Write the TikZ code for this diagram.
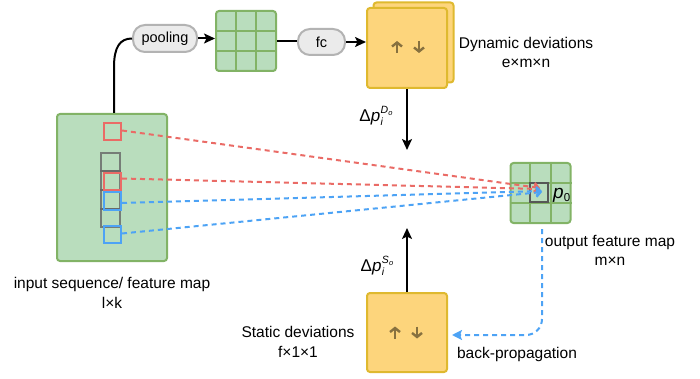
\documentclass[tikz,border=0pt]{standalone}
\usepackage{fontspec}
\setmainfont{Liberation Sans}
\usetikzlibrary{arrows.meta,calc}
\definecolor{gfill}{HTML}{B9DDBD}
\definecolor{gline}{HTML}{82B366}
\definecolor{yfill}{HTML}{FDD57C}
\definecolor{yline}{HTML}{DFB92F}
\definecolor{pfill}{HTML}{EBEBEB}
\definecolor{pline}{HTML}{B3B3B3}
\definecolor{rdash}{HTML}{EA6B66}
\definecolor{bdash}{HTML}{4DA3F5}
\definecolor{glyph}{HTML}{87713F}
\definecolor{gcell}{HTML}{666666}

% offset label: \Delta p_i^{X_o}
\newcommand{\offlabel}[1]{\fontsize{17}{18}\selectfont Δ\textit{p}\kern0.3pt\rlap{\raisebox{-4.5pt}{\fontsize{10.5}{10}\selectfont\textit{i}}}\raisebox{7.5pt}{\fontsize{10.5}{10}\selectfont\textit{#1}\kern0.3pt\raisebox{-2pt}{\fontsize{7.5}{7}\selectfont\textit{o}}}}

\begin{document}
\begin{tikzpicture}[x=1pt,y=-1pt,
  greenbox/.style={draw=gline,fill=gfill,line width=2pt,rounded corners=3pt,inner sep=0pt},
  pill/.style={draw=pline,fill=pfill,line width=2pt,rounded corners=12pt,inner sep=0pt,font=\fontsize{14.5}{16}\selectfont},
  devbox/.style={draw=yline,fill=yfill,line width=2pt,rounded corners=3pt,minimum width=80pt,minimum height=80pt,inner sep=0pt},
  cell/.style={line width=2pt,minimum width=17pt,minimum height=17pt,inner sep=0pt},
  graycell/.style={draw=gcell,draw opacity=0.8,line width=2pt,minimum width=19pt,minimum height=18.5pt,inner sep=0pt},
  lbl/.style={align=center,font=\fontsize{15.5}{19.5}\selectfont,inner sep=0pt},
  flow/.style={line width=2pt,-{Stealth[length=11pt,width=10pt,inset=2.5pt]}},
  plain/.style={line width=2pt},
  rdl/.style={draw=rdash,line width=2pt,dash pattern=on 5pt off 4pt,-{Straight Barb[length=4.5pt,width=9pt,line width=1.8pt]}},
  bdl/.style={draw=bdash,line width=2pt,dash pattern=on 5pt off 4pt,-{Straight Barb[length=4.5pt,width=9pt,line width=1.8pt]}},
  glyphar/.style={draw=glyph,line width=2.4pt,-{Straight Barb[length=4pt,width=10pt,line width=2.4pt]}},
]
\useasboundingbox (0,0) rectangle (700,379);

% input sequence / feature map
\node[greenbox,minimum width=110pt,minimum height=147pt] (input) at (112,187.5) {};
\node[graycell] (g1) at (110.5,162.25) {};
\node[graycell] (g2) at (110.5,180.75) {};
\node[graycell] (g3) at (110.5,199.25) {};
\node[graycell] (g4) at (110.5,217.75) {};
\node[cell,draw=rdash] (r1) at (112.5,131.5) {};
\node[cell,draw=rdash] (r2) at (112.5,181.5) {};
\node[cell,draw=bdash] (b1) at (112.5,201) {};
\node[cell,draw=bdash] (b2) at (112.5,234.5) {};
\node[lbl] (inlbl) at (112,293) {input sequence/ feature map\\l×k};

% pooling branch
\node[pill,minimum width=64pt,minimum height=27pt] (pool) at (165,38.5) {pooling};
\node[greenbox,minimum width=60pt,minimum height=60pt] (grid1) at (246,41) {};
\node[pill,minimum width=47pt,minimum height=26pt] (fc) at (321.5,42) {fc};

% dynamic deviations
\node[devbox] (dynback) at (413.5,42.5) {};
\node[devbox] (dyn) at (407,48) {};
\node[lbl] (dynlbl) at (526,52.5) {Dynamic deviations\\e×m×n};

% output feature map
\node[greenbox,minimum width=60pt,minimum height=60pt] (out) at (540.5,193) {};
\node[lbl] (outlbl) at (610,250.5) {output feature map\\m×n};

% static deviations
\node[devbox,minimum height=79pt] (stat) at (407,332.5) {};
\node[lbl] (statlbl) at (298,342) {Static deviations\\f×1×1};
\node[lbl] (bplbl) at (517,354) {back-propagation};

% grid lines of the two 3x3 maps
\foreach \g in {grid1,out}{
  \foreach \f in {1/3,2/3}{
    \draw[gline,line width=2pt] ($(\g.north west)!\f!(\g.north east)$) -- ($(\g.south west)!\f!(\g.south east)$);
    \draw[gline,line width=2pt] ($(\g.north west)!\f!(\g.south west)$) -- ($(\g.north east)!\f!(\g.south east)$);
  }
}
\node[draw=gcell!85!black,line width=2.2pt,minimum width=18pt,minimum height=18.5pt,inner sep=0pt] (pbox) at (539,192.5) {};
\node[inner sep=0pt,anchor=base west] (p0) at (553,198) {\fontsize{19}{20}\selectfont\textit{p}\raisebox{-3.5pt}{\fontsize{11.5}{11}\selectfont 0}};

% up/down glyphs
\draw[glyphar] ($(dyn.center)+(-10,5)$) -- ++(0,-12);
\draw[glyphar] ($(dyn.center)+(12,-7)$) -- ++(0,12);
\draw[glyphar] ($(stat.center)+(-12,6)$) -- ++(0,-12);
\draw[glyphar] ($(stat.center)+(10,-6)$) -- ++(0,12);

% top branch connectors
\draw[plain] ([xshift=2pt]input.north) -- ++(0,-46) .. controls +(0,-20) and +(-12,0) .. (pool.west);
\draw[flow] (pool.east) -- (grid1.west |- pool.east);
\draw[plain] (grid1.east) -- (fc.west |- grid1.east);
\draw[flow] (fc.east) -- (dyn.west |- fc.east);

% offsets into the output
\coordinate (dtip) at (407,150);
\coordinate (stip) at (407,228);
\draw[flow] (dyn.south) -- (dtip);
\draw[flow] (stat.north) -- (stip);
\node[inner sep=0pt] (dlbl) at (376,116) {\offlabel{D}};
\node[inner sep=0pt] (slbl) at (377,266) {\offlabel{S}};

% sampling lines
\coordinate (tr1) at (540,188);
\coordinate (tr2) at (540,189);
\coordinate (tb1) at (542,191);
\coordinate (tb2) at (542,192);
\draw[rdl] ([yshift=1pt]r1.east) -- (tr1);
\draw[rdl] ([yshift=3pt]r2.east) -- (tr2);
\draw[bdl] ([yshift=-2pt]b1.east) -- (tb1);
\draw[bdl] ([yshift=1pt]b2.east) -- (tb2);

% back-propagation
\coordinate (bpend) at (452,335);
\draw[draw=bdash,line width=2pt,dash pattern=on 5pt off 4pt,rounded corners=16pt,-{Stealth[length=10pt,width=10pt,inset=2pt]}] ([xshift=1.5pt,yshift=-5pt]out.south) |- (bpend);
\end{tikzpicture}
\end{document}
